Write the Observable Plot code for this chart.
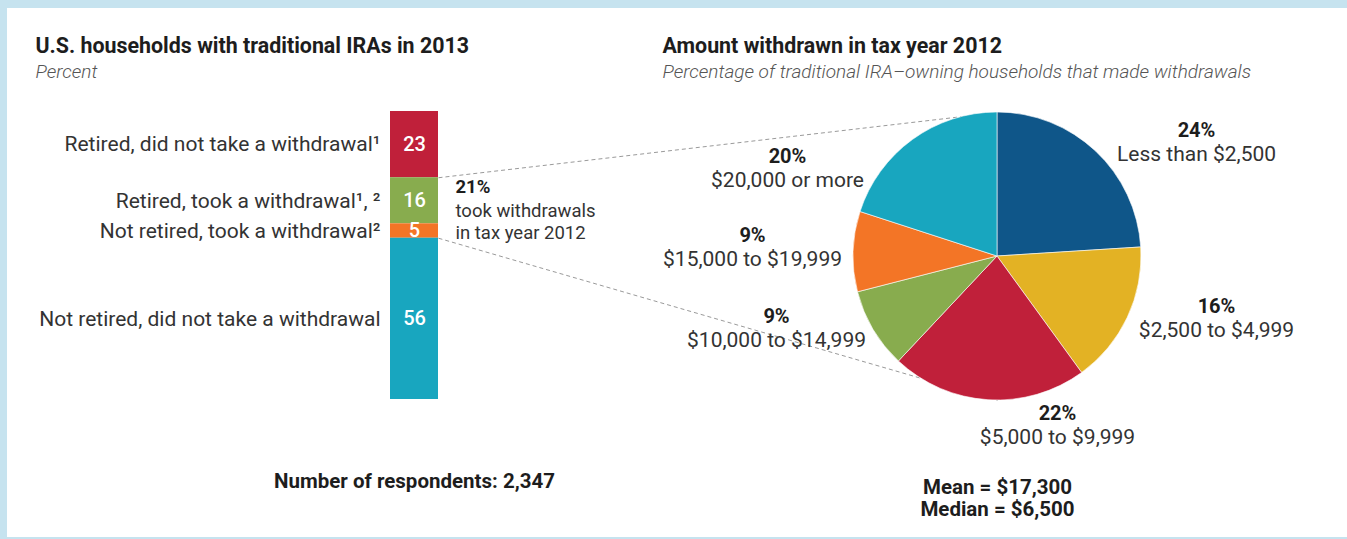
<!DOCTYPE html>
<html>
<head>
<meta charset="utf-8">
<script src="https://cdn.jsdelivr.net/npm/d3@7"></script>
<script src="https://cdn.jsdelivr.net/npm/@observablehq/plot@0.6"></script>
<style>
  html, body { margin: 0; padding: 0; background: #fff; }
  #frame { position: relative; width: 1347px; height: 539px; overflow: hidden; background: #fff; }
  #frame .band { position: absolute; background: #C6E3EF; }
  #frame svg { position: absolute; left: 0; top: 0; }
</style>
</head>
<body>
<div id="frame">
  <div class="band" style="left:0;top:0;width:1347px;height:8px"></div>
  <div class="band" style="left:0;top:0;width:7px;height:539px"></div>
  <div class="band" style="left:7px;top:537px;width:1340px;height:2px"></div>
</div>
<script>
// ---------- data ----------
const barCategories = [
  "Retired, did not take a withdrawal",
  "Retired, took a withdrawal",
  "Not retired, took a withdrawal",
  "Not retired, did not take a withdrawal"
];
const barNotes = ["\u00B9", "\u00B9, \u00B2", "\u00B2", ""];
const barValues = [23, 16, 5, 56];
const tookWithdrawalShare = 21;
const tookWithdrawalText = ["took withdrawals", "in tax year 2012"];

const pieCategories = [
  "Less than $2,500",
  "$2,500 to $4,999",
  "$5,000 to $9,999",
  "$10,000 to $14,999",
  "$15,000 to $19,999",
  "$20,000 or more"
];
const pieValues = [24, 16, 22, 9, 9, 20];

const leftTitle = "U.S. households with traditional IRAs in 2013";
const leftSubtitle = "Percent";
const rightTitle = "Amount withdrawn in tax year 2012";
const rightSubtitle = "Percentage of traditional IRA\u2013owning households that made withdrawals";
const respondentsNote = "Number of respondents: 2,347";
const statsNotes = ["Mean = $17,300", "Median = $6,500"];

// ---------- styles ----------
const FONT = 'Roboto, "Liberation Sans", sans-serif';
const barPalette = ["#C0203A", "#88AC4E", "#F37526", "#18A6BF"];
const piePalette = ["#0F5689", "#E3B224", "#C0203A", "#88AC4E", "#F37526", "#18A6BF"];
const INK = "#1d1d1d", TEXT = "#333333", SUB = "#555555", DASH = "#9a9a9a";

// ---------- layout ----------
const W = 1347, H = 539;
const BAR = {x0: 390, x1: 438, y0: 111, y1: 399};
const PIE = {cx: 997, cy: 256, r: 144};
const pieLabelCenters = [[1196, 142], [1216, 318], [1057, 425], [776, 328], [752, 247], [787, 168]];

// ---------- tables ----------
const barData = barCategories.map((c, i) => ({category: c, note: barNotes[i], value: barValues[i]}));
const pieData = pieCategories.map((c, i) => ({category: c, value: pieValues[i], lx: pieLabelCenters[i][0], ly: pieLabelCenters[i][1]}));

// ---------- bar plot (percent scale) ----------
const barPlot = Plot.plot({
  width: W, height: H, margin: 0,
  style: {background: "transparent", fontFamily: FONT, overflow: "visible"},
  x: {domain: [0, 1], range: [BAR.x0, BAR.x1], axis: null},
  y: {domain: [0, 100], range: [BAR.y0, BAR.y1], axis: null},
  color: {domain: barCategories, range: barPalette},
  marks: [
    Plot.rectY(barData, Plot.stackY({x1: 0, x2: 1, y: "value", fill: "category"})),
    Plot.text(barData, Plot.stackY({x: 0, y: "value", text: d => d.category + d.note, textAnchor: "end", dx: -10, fontSize: 21, fill: TEXT, lineAnchor: "middle"})),
    Plot.text(barData, Plot.stackY({x: 0.5, y: "value", text: d => String(d.value), fontSize: 20, fontWeight: 500, fill: "#fff", lineAnchor: "middle"})),
  ]
});

const xs = barPlot.scale("x"), ys = barPlot.scale("y");
const cum = d3.cumsum(barValues);
// withdrawal group spans categories 1..2
const groupTop = ys.apply(cum[0]);
const groupBottom = ys.apply(cum[2]);
const barRight = xs.apply(1);

const links = [
  {x1: barRight, y1: groupTop, x2: PIE.cx, y2: PIE.cy - PIE.r},
  {x1: barRight, y1: groupBottom, x2: PIE.cx, y2: PIE.cy + PIE.r}
];

function pieMark(index, scales) {
  const sx = scales.x || (v => v), sy = scales.y || (v => v);
  const arcs = d3.pie().sort(null).value(d => d.value)(pieData);
  const arc = d3.arc().innerRadius(0).outerRadius(PIE.r);
  const g = d3.create("svg:g").attr("transform", `translate(${sx(PIE.cx)},${sy(PIE.cy)})`);
  g.selectAll("path").data(arcs).join("path")
    .attr("d", arc)
    .attr("fill", (d, i) => piePalette[i])
    .attr("stroke", "#fff").attr("stroke-width", 0.6);
  return g.node();
}

const annPlot = Plot.plot({
  width: W, height: H, margin: 0,
  style: {background: "transparent", fontFamily: FONT, overflow: "visible"},
  x: {domain: [0, W], range: [0, W], axis: null},
  y: {domain: [0, H], range: [0, H], axis: null},
  marks: [
    Plot.link(links, {x1: "x1", y1: "y1", x2: "x2", y2: "y2", stroke: DASH, strokeWidth: 1, strokeDasharray: "4,3"}),
    pieMark,
    // pie labels
    Plot.text(pieData, {x: "lx", y: d => d.ly - 11.5, text: d => d.value + "%", fontSize: 20, fontWeight: "bold", fill: INK, lineAnchor: "middle"}),
    Plot.text(pieData, {x: "lx", y: d => d.ly + 11.5, text: "category", fontSize: 21, fill: TEXT, lineAnchor: "middle"}),
    // 21% annotation
    Plot.text([tookWithdrawalShare + "%"], {x: barRight + 17, y: groupTop + 9, text: d => d, textAnchor: "start", fontSize: 18.5, fontWeight: "bold", fill: INK, lineAnchor: "middle"}),
    Plot.text(tookWithdrawalText, {x: barRight + 17, y: (d, i) => groupTop + 33.5 + i * 22, text: d => d, textAnchor: "start", fontSize: 18.5, fill: TEXT, lineAnchor: "middle"}),
    // titles
    Plot.text([leftTitle], {x: 35, y: 46, text: d => d, textAnchor: "start", fontSize: 21.4, fontWeight: "bold", fill: INK, lineAnchor: "middle"}),
    Plot.text([leftSubtitle], {x: 35, y: 71, text: d => d, textAnchor: "start", fontSize: 19, fontWeight: 300, fontStyle: "italic", fill: SUB, lineAnchor: "middle"}),
    Plot.text([rightTitle], {x: 662, y: 46, text: d => d, textAnchor: "start", fontSize: 21.4, fontWeight: "bold", fill: INK, lineAnchor: "middle"}),
    Plot.text([rightSubtitle], {x: 662, y: 71, text: d => d, textAnchor: "start", fontSize: 19, fontWeight: 300, fontStyle: "italic", fill: SUB, lineAnchor: "middle"}),
    // notes
    Plot.text([respondentsNote], {x: (BAR.x0 + BAR.x1) / 2, y: 481, text: d => d, fontSize: 20.5, fontWeight: "bold", fill: INK, lineAnchor: "middle"}),
    Plot.text(statsNotes, {x: PIE.cx, y: (d, i) => 487 + i * 22, text: d => d, fontSize: 20.5, fontWeight: "bold", fill: INK, lineAnchor: "middle"}),
  ]
});

const frame = document.getElementById("frame");
frame.appendChild(barPlot);
frame.appendChild(annPlot);
</script>
</body>
</html>
